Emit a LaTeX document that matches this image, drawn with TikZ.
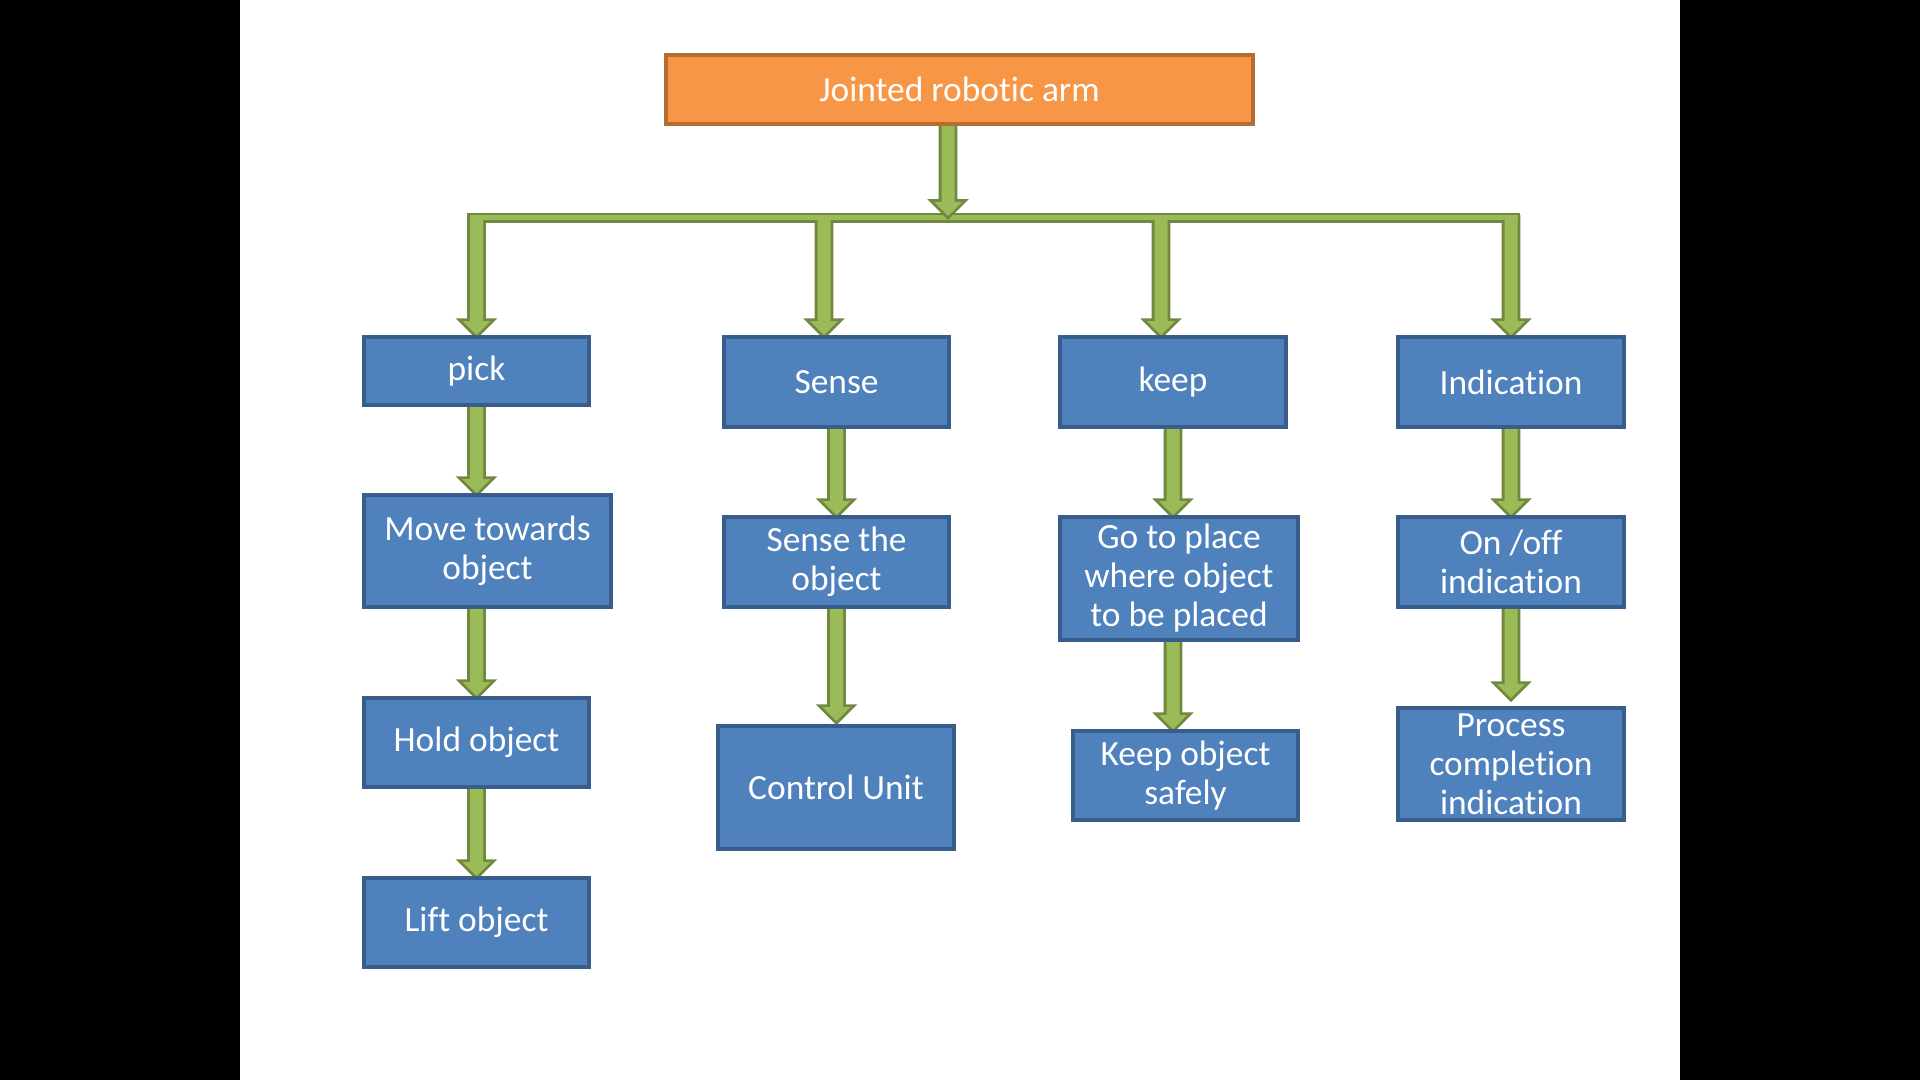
\documentclass[tikz,border=0pt]{standalone}
\usepackage{fontspec}
\setmainfont{Carlito}[Ligatures={NoCommon,NoContextual,NoRare}]
\usetikzlibrary{calc}
\definecolor{boxblue}{HTML}{4F81BD}
\definecolor{boxblueline}{HTML}{385D8A}
\definecolor{topor}{HTML}{F79646}
\definecolor{toporline}{HTML}{B66D31}
\definecolor{arrlight}{HTML}{9BBB59}
\definecolor{arrdark}{HTML}{71893F}
\pgfdeclarelayer{bg}\pgfdeclarelayer{arr}
\pgfsetlayers{bg,arr,main}
% block arrow pointing down from #1 to #2
\newcommand\arrpath[2]{let \p1=(#1), \p2=(#2) in
  (\x1-3.25pt,\y1) -- (\x1-3.25pt,\y2+7pt) -- (\x1-7pt,\y2+7pt) -- (\x1,\y2)
  -- (\x1+7pt,\y2+7pt) -- (\x1+3.25pt,\y2+7pt) -- (\x1+3.25pt,\y1) -- cycle}
\newcommand\treepaths[1]{%
  \path[#1] let \p1=(pick.north|-hub), \p2=(ind.north|-hub) in
    (\x1-3.25pt,\y1-1.25pt) rectangle (\x2+3.25pt,\y2+1.25pt);
  \path[#1] \arrpath{pick.north|-hub}{pick.north};
  \path[#1] \arrpath{s2|-hub}{s2};
  \path[#1] \arrpath{k2|-hub}{k2};
  \path[#1] \arrpath{ind.north|-hub}{ind.north};
}
\tikzset{
  box/.style={draw=boxblueline, fill=boxblue, line width=1.9pt, text=white,
    align=center, inner sep=0pt, font=\fontsize{17.7}{19.5}\selectfont},
  topbox/.style={box, draw=toporline, fill=topor},
  blockarr/.style={fill=arrlight, line join=miter, preaction={draw=arrdark, line width=2.8pt, line join=miter}},
}
\begin{document}
\begin{tikzpicture}[x=0.5pt,y=-0.5pt]
\useasboundingbox (0,0) rectangle (1920,1080);
\begin{pgfonlayer}{bg}
  \fill[black] (0,0) rectangle (1920,1080);
  \fill[white] (240,0) rectangle (1680,1080);
\end{pgfonlayer}

\node[topbox, minimum width=293.5pt, minimum height=34.5pt] (top) at (959.5,89.5) {Jointed robotic arm};

\node[box, minimum width=112.5pt, minimum height=34pt] (pick) at (476.5,371) {pick};
\node[box, minimum width=112.5pt, minimum height=45pt] (sense) at (836.5,382) {Sense};
\node[box, minimum width=113pt, minimum height=45pt] (keep) at (1173,382) {keep};
\node[box, minimum width=113pt, minimum height=45pt] (ind) at (1511,382) {Indication};

\node[box, minimum width=123.5pt, minimum height=56pt] (move) at (487.5,551) {Move towards\\object};
\node[box, minimum width=112.5pt, minimum height=45pt] (senseobj) at (836.5,562) {Sense the\\object};
\node[box, minimum width=119pt, minimum height=61.5pt] (goto) at (1179,578.5) {Go to place\\where object\\to be placed};
\node[box, minimum width=113pt, minimum height=45pt] (onoff) at (1511,562) {On /off\\indication};

\node[box, minimum width=112.5pt, minimum height=44.5pt] (hold) at (476.5,742.5) {Hold object};
\node[box, minimum width=118pt, minimum height=61.5pt] (control) at (836,787.5) {Control Unit};
\node[box, minimum width=112.5pt, minimum height=44.5pt] (keepsafe) at (1185.5,775.5) {Keep object\\safely};
\node[box, minimum width=113pt, minimum height=56pt] (process) at (1511,764) {Process\\completion\\indication};

\node[box, minimum width=112.5pt, minimum height=44.5pt] (lift) at (476.5,922.5) {Lift object};

\coordinate (hub) at (948,218);
\coordinate (s2) at ($(sense.north)+(-12.5,0)$);
\coordinate (k2) at ($(keep.north)+(-12,0)$);

\begin{pgfonlayer}{arr}
  \treepaths{draw=arrdark, line width=2.8pt, line join=miter}
  \treepaths{fill=arrlight}
  \path[blockarr] \arrpath{top.south -| hub}{$(hub)+(0,-2)$};

  \path[blockarr] \arrpath{pick.south}{pick.south |- move.north};
  \path[blockarr] \arrpath{pick.south |- move.south}{hold.north};
  \path[blockarr] \arrpath{hold.south}{lift.north};

  \path[blockarr] \arrpath{sense.south}{senseobj.north};
  \path[blockarr] \arrpath{senseobj.south}{$(control.north)+(0,-3)$};

  \path[blockarr] \arrpath{keep.south}{keep.south |- goto.north};
  \path[blockarr] \arrpath{keep.south |- goto.south}{keep.south |- keepsafe.north};

  \path[blockarr] \arrpath{ind.south}{onoff.north};
  \path[blockarr] \arrpath{onoff.south}{$(process.north)+(0,-8)$};
\end{pgfonlayer}
\end{tikzpicture}
\end{document}
